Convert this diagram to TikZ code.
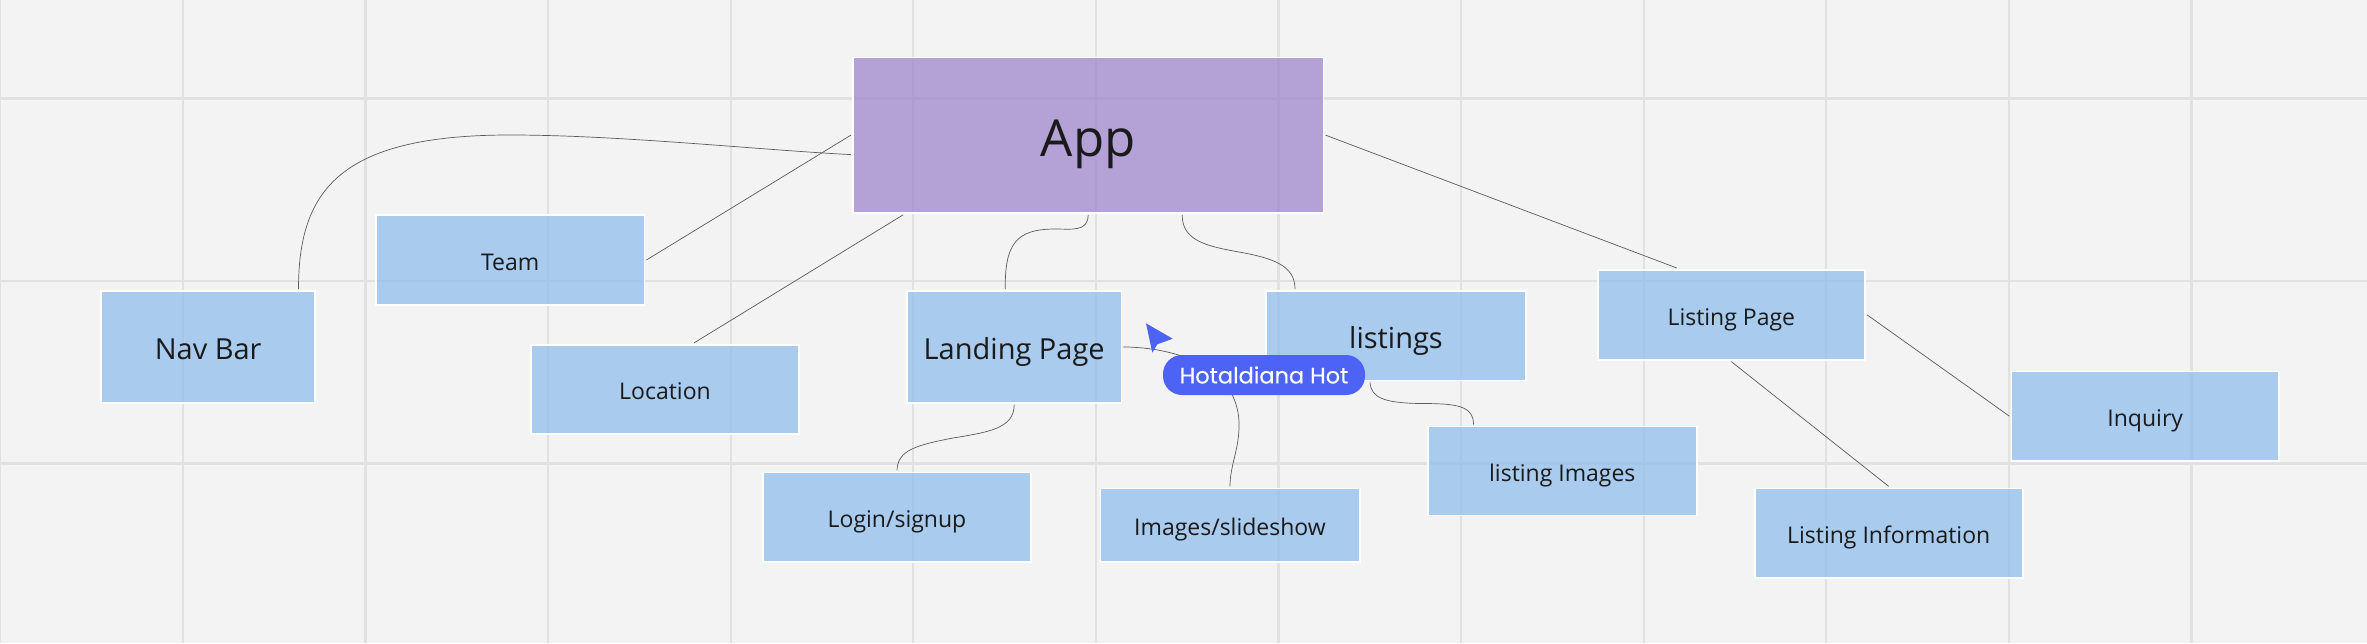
\documentclass[tikz,border=0pt]{standalone}
\usepackage{fontspec}
\setsansfont{Open Sans}
\newfontfamily\tagfont[FakeBold=0.25]{Poppins}
\usetikzlibrary{calc}
\definecolor{paper}{HTML}{F3F3F3}
\definecolor{gridline}{HTML}{E1E1E1}
\definecolor{boxblue}{HTML}{8BBBEC}
\definecolor{boxpurple}{HTML}{9A7FCB}
\definecolor{inkblack}{HTML}{1A1A1A}
\definecolor{wireline}{HTML}{5A5A5A}
\definecolor{tagblue}{HTML}{4C63F6}

\begin{document}
\begin{tikzpicture}[x=1pt,y=-1pt,
                    box/.style={rectangle,draw=white,line width=1.8pt,fill=boxblue,fill opacity=0.7,text opacity=1,text=inkblack,outer sep=0pt,inner sep=0pt},
                    small box/.style={box,font=\sffamily\fontsize{23}{28}\selectfont,text height=27.6pt,text depth=6.7pt},
                    mid box/.style={box,font=\sffamily\fontsize{29}{35}\selectfont,text height=34pt,text depth=8.5pt},
                    wire/.style={draw=wireline,line width=0.7pt}]
\useasboundingbox (0,0) rectangle (2367,643);
\fill[paper] (0,0) rectangle (2367,643);

 \foreach \x in {0,...,12}
    \draw[gridline,line width=2.2pt] (0.3+182.6*\x,0) -- (0.3+182.6*\x,643);
 \foreach \y in {0,...,2}
    \draw[gridline,line width=2.2pt] (0,98.4+182.5*\y) -- (2367,98.4+182.5*\y);

\node[box,fill=boxpurple,font=\sffamily\fontsize{51}{60}\selectfont,text height=57.5pt,text depth=15pt,minimum width=470.5pt,minimum height=155.4pt] (App) at (1088.2,135.1) {App};

\node[mid box,minimum width=214.3pt,minimum height=111.7pt] (NavBar) at (208.2,346.9) {Nav Bar};
\node[mid box,minimum width=214.4pt,minimum height=111.7pt] (LandingPage) at (1014.2,346.9) {Landing Page};
\node[mid box,minimum width=260pt,minimum height=89.5pt] (Listings) at (1396,335.7) {listings};

\node[small box,minimum width=268.4pt,minimum height=90pt] (Team) at (510.2,260) {Team};
\node[small box,minimum width=268pt,minimum height=89pt] (Location) at (665,389.4) {Location};
\node[small box,minimum width=268pt,minimum height=89.4pt] (Login) at (897,517.1) {Login/signup};
\node[small box,minimum width=259.2pt,minimum height=73.4pt] (Images) at (1230,525.1) {Images/slideshow};
\node[small box,minimum width=268.6pt,minimum height=89pt] (ListingImages) at (1562.3,471) {listing Images};
\node[small box,minimum width=267.4pt,minimum height=89.6pt] (ListingPage) at (1731.3,314.8) {Listing Page};
\node[small box,minimum width=267.6pt,minimum height=89.5pt] (Inquiry) at (2145.2,416.2) {Inquiry};
\node[small box,minimum width=267.8pt,minimum height=89.4pt] (ListingInfo) at (1888.7,533.1) {Listing Information};

% lines out of App
\draw[wire] ([xshift=90.3pt,yshift=2pt]NavBar.north) .. controls (298.5,190) and (340,135) .. (510,135)
            .. controls (620,135) and (760,150) .. ([xshift=-2pt,yshift=-19.5pt]App.west);
\draw[wire] ([xshift=2pt]Team.east) -- ([xshift=-2pt]App.west);
\draw[wire] ([xshift=29pt,yshift=2pt]Location.north) -- ([xshift=-185pt,yshift=-2pt]App.south);
\draw[wire] ([xshift=-9pt,yshift=2pt]LandingPage.north) .. controls (1005,245) and (1015,229) .. (1055,229)
            .. controls (1072,229) and (1088,232) .. ([yshift=-2pt]App.south);
\draw[wire] ([xshift=-101pt,yshift=2pt]Listings.north) .. controls (1295,265) and (1272,258) .. (1239,252)
            .. controls (1205,246) and (1182,240) .. ([xshift=94pt,yshift=-2pt]App.south);
\draw[wire] ([xshift=2pt]App.east) -- ([xshift=-54.5pt,yshift=2pt]ListingPage.north);

% lines out of the page boxes
\draw[wire] ([yshift=-2pt]LandingPage.south) .. controls (1014,428) and (990,432) .. (953,438)
            .. controls (917,445) and (897.4,450) .. ([yshift=2pt]Login.north);
\draw[wire] ([xshift=2pt]LandingPage.east) .. controls (1190,348) and (1240,375) .. (1239,426)
            .. controls (1239,450) and (1230,465) .. ([yshift=2pt]Images.north);
\draw[wire] ([xshift=-26pt,yshift=-2pt]Listings.south) .. controls (1371,398) and (1385,403) .. (1420,403.5)
            .. controls (1455,403.5) and (1473.5,405) .. ([xshift=-88.8pt,yshift=2pt]ListingImages.north);
\draw[wire] ([xshift=2pt]ListingPage.east) -- ([xshift=-2pt]Inquiry.west);
\draw[wire] ([yshift=-2pt]ListingPage.south) -- ([yshift=2pt]ListingInfo.north);

% the cursor with its name
\node[rectangle,rounded corners=19pt,fill=tagblue,text=white,font=\tagfont\fontsize{22.5}{28}\selectfont,minimum width=202pt,minimum height=40pt,inner sep=0pt] (Tag) at (1264,375) {Hotaldiana Hot};
\fill[tagblue] (1146,323.3) -- (1172.7,338.7) -- (1157.3,344.3) -- (1152.3,352.7) -- cycle;
\end{tikzpicture}
\end{document}
